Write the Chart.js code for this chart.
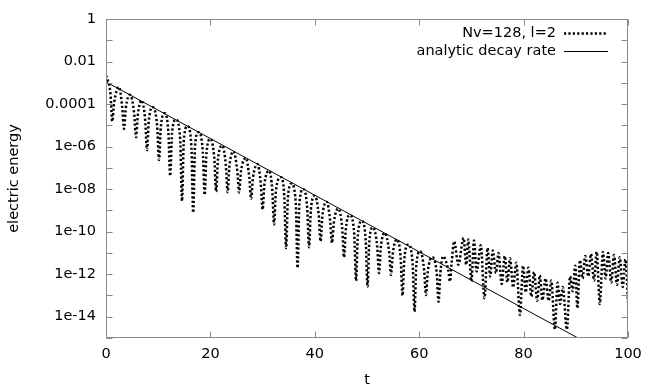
<!DOCTYPE html>
<html lang="en">
<head>
<meta charset="UTF-8">
<title>electric energy</title>
<style>
  body { margin: 0; background: #fff; }
  #wrap { width: 654px; height: 392px; }
</style>
</head>
<body>
<div id="wrap"><canvas id="energyChart" width="654" height="392"></canvas></div>
<script src="https://cdn.jsdelivr.net/npm/chart.js"></script>
<script>
// simulation output (peaks, trough flanks and troughs)
const simTime = [
  0, 0.85, 1.2, 1.55, 2.5, 3.1, 3.45, 3.8, 4.6, 5.4,
  5.75, 6.1, 6.8, 7.5, 7.85, 8.2, 8.9, 9.8, 10.15, 10.5,
  11.2, 11.95, 12.3, 12.65, 13.4, 14.21, 14.56, 14.91, 15.6, 16.35,
  16.7, 17.05, 17.7, 18.55, 18.9, 19.25, 20.0, 20.75, 21.1, 21.45,
  22.3, 22.95, 23.3, 23.65, 24.4, 25.15, 25.5, 25.85, 26.8, 27.45,
  27.8, 28.15, 29.0, 29.65, 30.0, 30.35, 31.3, 31.85, 32.2, 32.55,
  33.5, 34.15, 34.5, 34.85, 35.5, 36.35, 36.7, 37.05, 37.8, 38.55,
  38.9, 39.25, 40.0, 40.75, 41.1, 41.45, 42.3, 42.95, 43.3, 43.65,
  44.5, 45.25, 45.6, 45.95, 46.7, 47.55, 47.9, 48.25, 49.0, 49.75,
  50.1, 50.45, 51.1, 51.95, 52.3, 52.65, 53.4, 54.25, 54.6, 54.95,
  55.7, 56.45, 56.8, 57.15, 57.9, 58.75, 59.1, 59.45, 60.2, 60.95,
  61.3, 61.65, 62.5, 63.35, 63.7, 64.05, 64.6, 65.55, 65.9, 66.2,
  66.7, 67.5, 68.5, 69.0, 69.4, 70.0, 70.5, 71.0, 71.8, 72.5,
  73.1, 73.6, 74.1, 74.7, 75.2, 75.8, 76.4, 76.9, 77.4, 78.0,
  78.6, 79.3, 79.9, 80.4, 80.9, 81.5, 82.0, 82.6, 83.1, 83.6,
  84.2, 84.8, 85.3, 86.0, 86.5, 87.0, 87.5, 88.3, 88.9, 89.4,
  89.9, 90.3, 90.8, 91.3, 91.8, 92.4, 92.9, 93.5, 94.0, 94.6,
  95.2, 95.7, 96.2, 96.8, 97.3, 97.9, 98.4, 99.0, 99.5, 100
];
const simEnergy = [
  2.24e-3, 3.16e-4, 1.55e-5, 1.12e-4, 6.3e-4, 7.4e-5, 6.8e-6, 6.6e-5, 2.75e-4, 3.55e-5,
  2.75e-6, 3.16e-5, 1.48e-4, 1.82e-5, 6.9e-7, 1.62e-5, 7.1e-5, 9.1e-6, 2.34e-7, 8.1e-6,
  3.7e-5, 4.7e-6, 4.2e-8, 4.2e-6, 1.86e-5, 2.3e-6, 2.75e-9, 2.04e-6, 9.1e-6, 1.15e-6,
  7.8e-10, 1.02e-6, 4.7e-6, 5.75e-7, 5.4e-9, 5.1e-7, 2.3e-6, 2.8e-7, 7.6e-9, 2.5e-7,
  1.1e-6, 1.41e-7, 7.2e-9, 1.26e-7, 5.9e-7, 7.2e-8, 6.9e-9, 6.5e-8, 2.9e-7, 3.7e-8,
  3.5e-9, 3.3e-8, 1.5e-7, 1.86e-8, 1.1e-9, 1.66e-8, 7.2e-8, 9.1e-9, 2.2e-10, 8.1e-9,
  3.6e-8, 4.6e-9, 1.7e-11, 4.1e-9, 1.8e-8, 2.4e-9, 1.95e-12, 2.14e-9, 1.0e-8, 1.23e-9,
  1.86e-11, 1.1e-9, 4.8e-9, 6.2e-10, 3.5e-11, 5.5e-10, 2.5e-9, 3.1e-10, 2.95e-11, 2.75e-10,
  1.2e-9, 1.51e-10, 6.2e-12, 1.35e-10, 6.0e-10, 7.8e-11, 4.9e-13, 6.9e-11, 3.16e-10, 4.0e-11,
  2.6e-13, 3.55e-11, 1.58e-10, 2.1e-11, 1.12e-12, 1.86e-11, 8.7e-11, 1.07e-11, 9.3e-13, 9.5e-12,
  4.3e-11, 5.75e-12, 1.0e-13, 5.1e-12, 2.45e-11, 3.0e-12, 1.74e-14, 2.7e-12, 1.2e-11, 1.51e-12,
  1.05e-13, 1.35e-12, 6.2e-12, 1.15e-12, 5.1e-14, 1.15e-12, 6.9e-12, 1.58e-12, 4.6e-13, 3.16e-12,
  3.5e-11, 2.8e-12, 5.1e-11, 2.8e-12, 4.3e-11, 4.6e-13, 3.8e-11, 1.35e-12, 2.3e-11, 7.4e-14,
  1.7e-11, 7.9e-13, 1.3e-11, 1.12e-12, 1.0e-11, 3.5e-13, 7.1e-12, 4.2e-13, 5.6e-12, 2.4e-13,
  3.5e-12, 1.2e-14, 2.5e-12, 1.4e-13, 2.0e-12, 8.9e-14, 1.26e-12, 5.6e-14, 8.9e-13, 6.0e-14,
  6.3e-13, 5.6e-14, 5.0e-13, 2.5e-15, 4.0e-13, 4.0e-14, 2.5e-13, 2.5e-15, 7.9e-13, 1.6e-13,
  2.5e-12, 2.5e-14, 4.5e-12, 6.3e-13, 7.1e-12, 7.9e-13, 8.9e-12, 5.0e-13, 1.12e-11, 4.0e-14,
  1.12e-11, 6.3e-13, 1.0e-11, 4.0e-13, 7.9e-12, 3.2e-13, 6.3e-12, 2.5e-13, 5.0e-12, 5.0e-14
];

// straight line in log scale: two end points
const analyticTime = [0, 100];
const analyticEnergy = [1.1e-3, 5.3e-17];

const seriesLabels = ['Nv=128, l=2', 'analytic decay rate'];

const xTickValues = [0, 20, 40, 60, 80, 100];
const yTickValues = [1e-15, 1e-14, 1e-13, 1e-12, 1e-11, 1e-10, 1e-9, 1e-8,
                     1e-7, 1e-6, 1e-5, 1e-4, 1e-3, 1e-2, 1e-1, 1];
const yTickLabels = ['', '1e-14', '', '1e-12', '', '1e-10', '', '1e-08',
                     '', '1e-06', '', '0.0001', '', '0.01', '', '1'];

const FONT = 'DejaVu Sans';
const FSIZE = 14.5;
const dotDash = [2.2, 2.2];

// box, inward ticks on all four sides, and the key in the top right corner
const framePlugin = {
  id: 'frame',
  afterDatasetsDraw(chart) {
    const { ctx, chartArea: a, scales } = chart;
    const L = Math.round(a.left) + 0.5, R = Math.round(a.right) - 0.5;
    const T = Math.round(a.top) + 0.5, B = Math.round(a.bottom) - 0.5;
    ctx.save();
    ctx.strokeStyle = '#8a8a8a';
    ctx.lineWidth = 1;
    ctx.beginPath();
    yTickValues.forEach(v => {
      const py = Math.round(scales.y.getPixelForValue(v)) + 0.5;
      ctx.moveTo(L, py); ctx.lineTo(L + 6, py);
      ctx.moveTo(R, py); ctx.lineTo(R - 6, py);
    });
    xTickValues.forEach(v => {
      const px = Math.round(scales.x.getPixelForValue(v)) + 0.5;
      ctx.moveTo(px, B); ctx.lineTo(px, B - 6);
      ctx.moveTo(px, T); ctx.lineTo(px, T + 6);
    });
    ctx.stroke();
    ctx.strokeRect(L, T, R - L, B - T);

    // key
    ctx.font = FSIZE + 'px "' + FONT + '"';
    ctx.fillStyle = '#000';
    ctx.textAlign = 'right';
    ctx.textBaseline = 'middle';
    const rows = [33, 51];
    chart.data.datasets.forEach((ds, i) => {
      const yy = rows[i];
      ctx.fillText(ds.label, 556, yy);
      ctx.save();
      ctx.strokeStyle = ds.borderColor;
      ctx.lineWidth = ds.borderWidth;
      ctx.setLineDash(ds.borderDash || []);
      ctx.beginPath();
      ctx.moveTo(564, yy + 0.5);
      ctx.lineTo(608, yy + 0.5);
      ctx.stroke();
      ctx.restore();
    });
    ctx.restore();
  }
};

new Chart(document.getElementById('energyChart'), {
  type: 'line',
  data: {
    datasets: [{
      label: seriesLabels[0],
      data: simTime.map((t, i) => ({ x: t, y: simEnergy[i] })),
      borderColor: '#000',
      borderWidth: 2.5,
      borderDash: dotDash,
      pointRadius: 0,
      cubicInterpolationMode: 'monotone',
      clip: 0
    }, {
      label: seriesLabels[1],
      data: analyticTime.map((t, i) => ({ x: t, y: analyticEnergy[i] })),
      borderColor: '#000',
      borderWidth: 1,
      pointRadius: 0,
      tension: 0,
      clip: 0
    }]
  },
  options: {
    responsive: false,
    animation: false,
    devicePixelRatio: 1,
    layout: { padding: { top: 19, right: 26, left: 0, bottom: 0 } },
    plugins: { legend: { display: false }, tooltip: { enabled: false } },
    font: { family: FONT },
    scales: {
      x: {
        type: 'linear',
        min: 0, max: 100,
        grid: { display: false, drawTicks: false },
        border: { display: false },
        afterBuildTicks: s => { s.ticks = xTickValues.map(v => ({ value: v })); },
        ticks: { color: '#000', padding: 8, font: { family: FONT, size: FSIZE } },
        title: { display: true, text: 't', color: '#000', padding: { top: 4, bottom: 3 },
                 font: { family: FONT, size: FSIZE } },
        afterFit: s => { s.height = 54; }
      },
      y: {
        type: 'logarithmic',
        min: 1e-15, max: 1,
        grid: { display: false, drawTicks: false },
        border: { display: false },
        afterBuildTicks: s => { s.ticks = yTickValues.map(v => ({ value: v })); },
        ticks: {
          color: '#000', padding: 10, autoSkip: false,
          font: { family: FONT, size: FSIZE },
          callback: v => yTickLabels[yTickValues.indexOf(v)]
        },
        title: { display: true, text: 'electric energy', color: '#000',
                 padding: { top: 6, bottom: 4 }, font: { family: FONT, size: FSIZE } },
        afterFit: s => { s.width = 106; }
      }
    }
  },
  plugins: [framePlugin]
});
</script>
</body>
</html>
